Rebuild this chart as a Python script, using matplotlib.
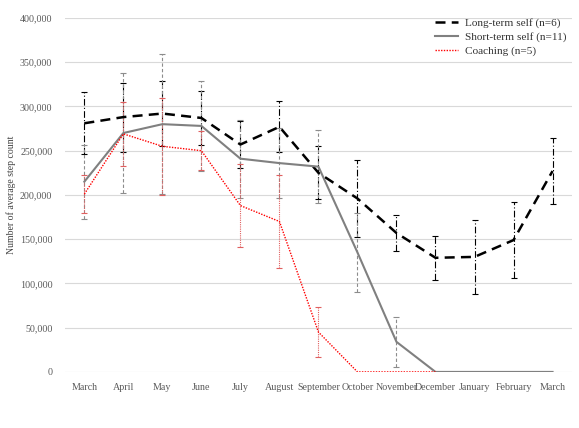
import numpy as np
import matplotlib.pyplot as plt

plt.rcParams['font.family'] = ['Liberation Serif', 'DejaVu Serif']

months = ["March", "April", "May", "June", "July", "August", "September",
          "October", "November", "December", "January", "February", "March"]

# means and error half-widths (steps)
long_term = [281000, 288000, 292000, 287000, 257000, 277000, 225000,
             196000, 157000, 129000, 130000, 149000, 227000]
long_err = [35000, 39000, 37000, 30000, 27000, 29000, 30000,
            43000, 20000, 25000, 42000, 43000, 37000]

short_term = [215000, 270000, 280000, 278000, 241000, 236000, 232000,
              135000, 34000, 0, 0, 0, 0]
short_err = [42000, 68000, 79000, 51000, 44000, 40000, 41000,
             45000, 28000, 0, 0, 0, 0]

coaching = [201000, 269000, 255000, 250000, 188000, 170000, 45000,
            0, 0, 0, np.nan, np.nan, np.nan]
coach_err = [21000, 36000, 55000, 22000, 47000, 53000, 28000,
             0, 0, 0, np.nan, np.nan, np.nan]

x = np.arange(len(months))

fig = plt.figure(figsize=(5.79, 4.28), dpi=100)
ax = fig.add_axes([0.112, 0.131, 0.876, 0.827])


def bars(vals, errs, color, ls, cap):
    vals = np.array(vals, dtype=float)
    errs = np.array(errs, dtype=float)
    keep = np.nan_to_num(errs) > 0
    e = ax.errorbar(x[keep], vals[keep], yerr=errs[keep], fmt='none',
                    ecolor=color, elinewidth=0.8, capsize=cap, capthick=0.8)
    e[2][0].set_linestyle(ls)


bars(long_term, long_err, 'black', (0, (6, 2, 1, 2)), 2.5)
bars(short_term, short_err, '#8c8c8c', (0, (3, 2)), 2)
bars(coaching, coach_err, '#e06060', (0, (1, 1)), 2)

ax.plot(x, long_term, color='black', lw=1.8, dashes=(4, 2.5),
        label='Long-term self (n=6)')
ax.plot(x, short_term, color='#808080', lw=1.5, label='Short-term self (n=11)')
ax.plot(x, coaching, color='red', lw=1.0, linestyle=(0, (1, 1)),
        label='Coaching (n=5)')

ax.set_xlim(-0.5, 12.5)
ax.set_ylim(0, 400000)
ax.set_yticks(np.arange(0, 400001, 50000))
ax.set_yticklabels([f"{v:,}" for v in range(0, 400001, 50000)])
ax.set_xticks(x)
ax.set_xticklabels(months)
ax.tick_params(length=0, labelsize=7.2, colors='#595959', pad=8)
ax.tick_params(axis='y', pad=9)
ax.grid(axis='y', color='#d9d9d9', lw=0.8)
ax.set_axisbelow(True)
for s in ax.spines.values():
    s.set_visible(False)

ax.set_ylabel("Number of average step count", fontsize=7, color='#404040')
ax.yaxis.set_label_coords(-0.097, 0.5)

ax.legend(loc='upper left', frameon=False, fontsize=8.1, handlelength=2.1,
          handletextpad=0.6, labelspacing=0.35, borderaxespad=0,
          labelcolor='#333333', bbox_to_anchor=(0.72, 1.013))

fig.savefig("out.png", dpi=100)
